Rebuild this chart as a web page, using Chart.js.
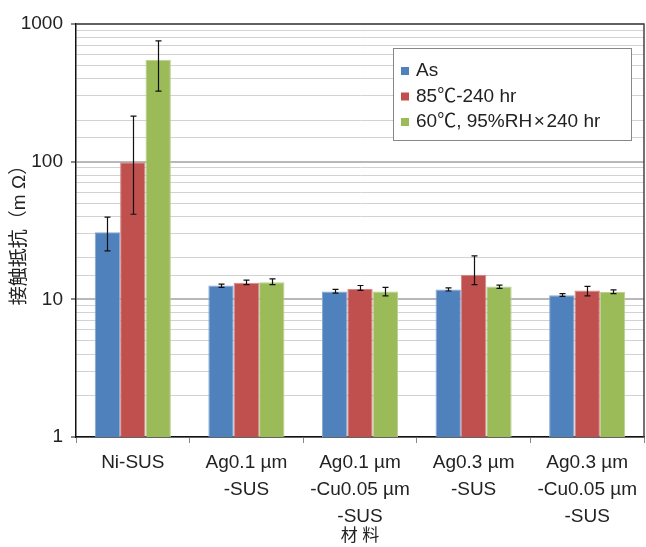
<!DOCTYPE html>
<html>
<head>
<meta charset="utf-8">
<script src="https://cdn.jsdelivr.net/npm/chart.js@4/dist/chart.umd.min.js"></script>
<style>
  html, body { margin: 0; padding: 0; background: #fff; }
  #wrap { width: 646px; height: 547px; }
</style>
</head>
<body>
<div id="wrap"><canvas id="grafico" width="646" height="547"></canvas></div>
<script>
// Dados (mΩ)
const categorias = [
  ['Ni-SUS'],
  ['Ag0.1 µm', '-SUS'],
  ['Ag0.1 µm', '-Cu0.05 µm', '-SUS'],
  ['Ag0.3 µm', '-SUS'],
  ['Ag0.3 µm', '-Cu0.05 µm', '-SUS']
];
const series = ['As', '85℃-240 hr', '60℃, 95%RH\u200A×\u200A240 hr'];

const asValores = [30.7, 12.6, 11.4, 11.8, 10.7];
const asMin     = [22.5, 12.2, 11.1, 11.5, 10.5];
const asMax     = [39.5, 12.9, 11.8, 12.1, 11.0];

const calorValores = [99, 13.2, 11.9, 15.1, 11.6];
const calorMin     = [41.5, 12.8, 11.6, 12.8, 10.6];
const calorMax     = [214, 13.8, 12.6, 20.7, 12.4];

const umidValores = [551, 13.3, 11.4, 12.4, 11.3];
const umidMin     = [325, 12.8, 10.6, 12.0, 11.0];
const umidMax     = [753, 14.1, 12.2, 12.7, 11.7];

const yTicks = [1, 10, 100, 1000];

const cores = ['#4F81BD', '#C0504D', '#9BBB59'];
const bordas = ['#86A7D2', '#D38885', '#B9D08F'];
const errosMin = [asMin, calorMin, umidMin];
const errosMax = [asMax, calorMax, umidMax];

const FONTE = "'Liberation Sans', 'Noto Sans CJK JP', sans-serif";

// Barras de erro
const pluginErros = {
  id: 'barrasErro',
  afterDatasetsDraw(chart) {
    const ctx = chart.ctx;
    const y = chart.scales.y;
    ctx.save();
    ctx.strokeStyle = '#111';
    ctx.lineWidth = 1.2;
    chart.data.datasets.forEach((ds, i) => {
      const meta = chart.getDatasetMeta(i);
      meta.data.forEach((bar, j) => {
        const yLo = y.getPixelForValue(errosMin[i][j]);
        const yHi = y.getPixelForValue(errosMax[i][j]);
        const x = Math.round(bar.x) + 0.5;
        ctx.beginPath();
        ctx.moveTo(x, yLo); ctx.lineTo(x, yHi);
        ctx.moveTo(x - 3, yLo); ctx.lineTo(x + 3, yLo);
        ctx.moveTo(x - 3, yHi); ctx.lineTo(x + 3, yHi);
        ctx.stroke();
      });
    });
    ctx.restore();
  }
};

// Moldura e legenda
const pluginMoldura = {
  id: 'moldura',
  afterDraw(chart) {
    const ctx = chart.ctx;
    const a = chart.chartArea;
    ctx.save();
    ctx.strokeStyle = '#444';
    ctx.lineWidth = 1.5;
    ctx.beginPath();
    ctx.moveTo(a.left, a.top); ctx.lineTo(a.right, a.top); ctx.lineTo(a.right, a.bottom);
    ctx.stroke();

    // legenda
    const lx = a.right - 251, ly = a.top + 24, lw = 238, lh = 92;
    ctx.fillStyle = '#fff';
    ctx.fillRect(lx, ly, lw, lh);
    ctx.strokeStyle = '#888';
    ctx.lineWidth = 1;
    ctx.strokeRect(lx + 0.5, ly + 0.5, lw, lh);
    ctx.font = '19px ' + FONTE;
    ctx.textBaseline = 'middle';
    chart.data.datasets.forEach((ds, i) => {
      const yy = ly + 23 + i * 25.5;
      ctx.fillStyle = ds.backgroundColor;
      ctx.fillRect(lx + 8, yy - 4, 8, 8);
      ctx.fillStyle = '#222';
      ctx.fillText(ds.label, lx + 23, yy);
    });
    ctx.restore();
  }
};

new Chart(document.getElementById('grafico'), {
  type: 'bar',
  data: {
    labels: categorias,
    datasets: [
      { label: series[0], data: asValores, backgroundColor: cores[0], borderColor: bordas[0], borderWidth: 1 },
      { label: series[1], data: calorValores, backgroundColor: cores[1], borderColor: bordas[1], borderWidth: 1 },
      { label: series[2], data: umidValores, backgroundColor: cores[2], borderColor: bordas[2], borderWidth: 1 }
    ]
  },
  options: {
    responsive: false,
    animation: false,
    devicePixelRatio: 1,
    layout: { padding: { top: 24, right: 2, left: 0, bottom: 0 } },
    datasets: { bar: { categoryPercentage: 0.67, barPercentage: 1.0 } },
    plugins: {
      legend: { display: false },
      tooltip: { enabled: false }
    },
    scales: {
      x: {
        offset: true,
        afterFit: s => { s.height = 110; },
        grid: { drawOnChartArea: false, tickLength: 6, color: '#888', offset: true },
        border: { color: '#111', width: 1.5 },
        ticks: {
          color: '#222', padding: 6, maxRotation: 0, autoSkip: false,
          font: { family: FONTE, size: 19, lineHeight: 1.42 }
        },
        title: {
          display: true, text: '材 料', color: '#222',
          font: { family: FONTE, size: 17 }, padding: { top: 0, bottom: 0 }
        }
      },
      y: {
        type: 'logarithmic',
        min: 1, max: 1000,
        afterFit: s => { s.width = 76; },
        border: { color: '#111', width: 1.5 },
        grid: {
          tickLength: 5,
          color: c => yTicks.includes(c.tick.value) ? '#b8b8b8' : '#d2d2d2',
          lineWidth: c => yTicks.includes(c.tick.value) ? 2 : 1,
          tickColor: c => yTicks.includes(c.tick.value) ? '#888' : 'rgba(0,0,0,0)'
        },
        ticks: {
          autoSkip: false, color: '#222', padding: 8,
          font: { family: FONTE, size: 19 },
          callback: v => yTicks.includes(v) ? String(v) : ''
        },
        title: {
          display: true, text: '接触抵抗（m Ω）', color: '#222',
          font: { family: FONTE, size: 19 }, padding: { top: 8, bottom: 0 }
        }
      }
    }
  },
  plugins: [pluginErros, pluginMoldura]
});
</script>
</body>
</html>
